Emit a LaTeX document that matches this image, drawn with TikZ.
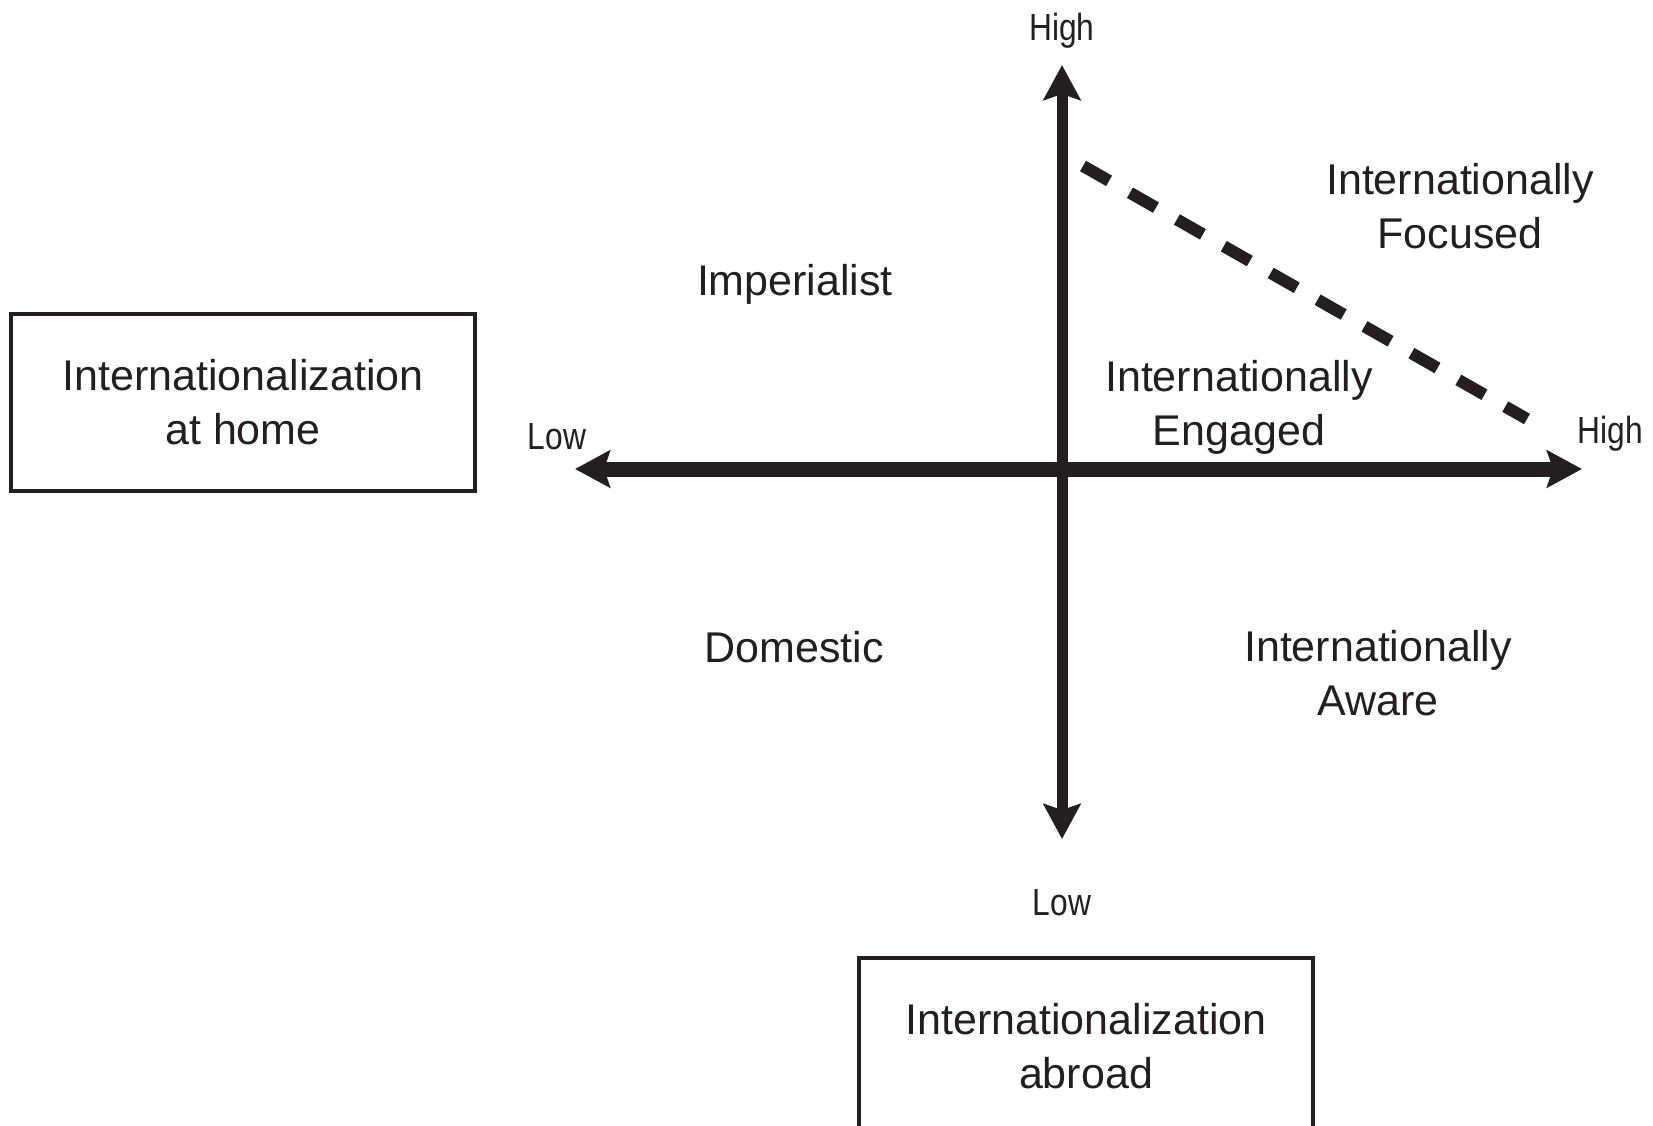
\documentclass[tikz,border=0pt]{standalone}
\usepackage{fontspec}
\setmainfont{Liberation Sans}
\newfontfamily\narrowfont[FakeStretch=0.84]{Liberation Sans}
\usetikzlibrary{arrows.meta}
\definecolor{ink}{RGB}{35,31,32}
\begin{document}
\begin{tikzpicture}[x=0.5pt,y=-0.5pt,
  bigtxt/.style={text=ink, inner sep=0pt, align=center, font=\fontsize{21.5pt}{27pt}\selectfont},
  smalltxt/.style={text=ink, inner sep=0pt, font=\narrowfont\fontsize{18.9pt}{22pt}\selectfont},
  boxnode/.style={bigtxt, draw=ink, line width=2pt, minimum height=88.5pt},
  axisline/.style={draw=ink, {Stealth[length=17.5pt,width=18.5pt,inset=3pt]}-{Stealth[length=17.5pt,width=18.5pt,inset=3pt]}},
  divider/.style={draw=ink, line width=6pt, dash pattern=on 15pt off 12pt}
]
\useasboundingbox (0,0) rectangle (1653,1125);
\fill[white] (0,0) rectangle (1653,1125);

% axis ends
\coordinate (top) at (1062,65);
\coordinate (bottom) at (1062,839);
\coordinate (left) at (575,469);
\coordinate (right) at (1582,469);
\coordinate (dashA) at (1083,166);
\coordinate (dashB) at (1527,419);

\draw[axisline, line width=5.5pt] (bottom) -- (top);
\draw[axisline, line width=7.5pt] (left) -- (right);
\draw[divider] (dashA) -- (dashB);

% axis labels
\node[smalltxt, anchor=base] (hightop) at (1062,40) {High};
\node[smalltxt, anchor=base] (highright) at (1610,443) {High};
\node[smalltxt, anchor=base] (lowleft) at (557,449) {Low};
\node[smalltxt, anchor=base] (lowbottom) at (1062,915) {Low};

% quadrant labels (base = last line's baseline)
\node[bigtxt, anchor=base] (imperialist) at (795,295) {Imperialist};
\node[bigtxt, anchor=base] (focused) at (1460,248) {Internationally\\Focused};
\node[bigtxt, anchor=base] (engaged) at (1239,445) {Internationally\\Engaged};
\node[bigtxt, anchor=base] (domestic) at (794,662) {Domestic};
\node[bigtxt, anchor=base] (aware) at (1378,715) {Internationally\\Aware};

% boxes
\node[boxnode, minimum width=232pt] (home) at (243,402.5) {Internationalization\\at home};
\node[boxnode, minimum width=227pt] (abroad) at (1086,1046.5) {Internationalization\\abroad};
\end{tikzpicture}
\end{document}
